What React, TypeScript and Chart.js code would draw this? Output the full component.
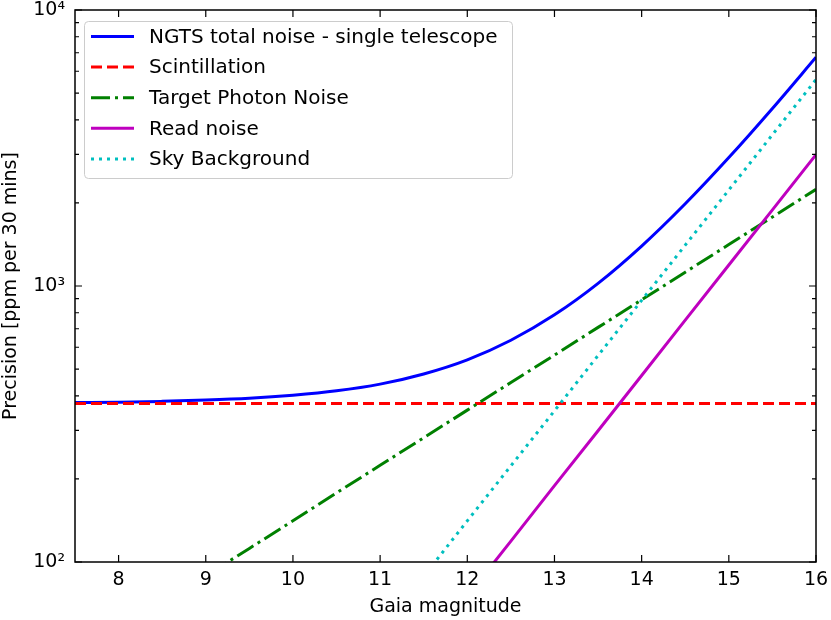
import { Chart, registerables } from 'chart.js';
import type { Plugin } from 'chart.js';
import { useEffect, useRef } from 'react';

Chart.register(...registerables);

const magnitudes = [7.5, 8, 8.5, 9, 9.5, 10, 10.5, 11, 11.5, 12, 12.5, 13, 13.5, 14, 14.5, 15, 15.5, 16];
const totalNoise = [378, 379, 382, 386, 392, 402, 417, 441, 480, 540, 636, 786, 1022, 1395, 1985, 2919, 4398, 6741];
const scintillation = [375, 375, 375, 375, 375, 375, 375, 375, 375, 375, 375, 375, 375, 375, 375, 375, 375, 375];
const photonNoise = [44.7, 56.2, 70.8, 89.1, 112, 141, 178, 224, 282, 355, 447, 562, 708, 891, 1122, 1413, 1778, 2239];
const readNoise = [1.19, 1.89, 2.99, 4.74, 7.52, 11.9, 18.9, 29.9, 47.4, 75.2, 119, 189, 299, 474, 752, 1191, 1888, 2992];
const skyBackground = [2.23, 3.53, 5.6, 8.87, 14.1, 22.3, 35.3, 56, 88.7, 141, 223, 353, 560, 887, 1406, 2228, 3532, 5598];

const xTicks = [8, 9, 10, 11, 12, 13, 14, 15, 16];
const yTicks = [100, 1000, 10000];
const yTickLabels = ['10²', '10³', '10⁴'];
const yMinorTicks = [200, 300, 400, 500, 600, 700, 800, 900, 2000, 3000, 4000, 5000, 6000, 7000, 8000, 9000];

const FONT = 'DejaVu Sans';

const toPoints = (vals: number[]) => magnitudes.map((m, i) => ({ x: m, y: vals[i] }));

// matplotlib style frame with inward ticks on all four sides
const framePlugin: Plugin<'line'> = {
  id: 'frame',
  afterDraw(chart) {
    const { ctx, chartArea: a, scales } = chart;
    const x = scales.x;
    const y = scales.y;
    ctx.save();
    ctx.strokeStyle = '#000';
    ctx.lineWidth = 1.2;
    ctx.beginPath();
    xTicks.forEach((v) => {
      const px = x.getPixelForValue(v);
      ctx.moveTo(px, a.bottom);
      ctx.lineTo(px, a.bottom - 7);
      ctx.moveTo(px, a.top);
      ctx.lineTo(px, a.top + 7);
    });
    yTicks.forEach((v) => {
      const py = y.getPixelForValue(v);
      ctx.moveTo(a.left, py);
      ctx.lineTo(a.left + 7, py);
      ctx.moveTo(a.right, py);
      ctx.lineTo(a.right - 7, py);
    });
    yMinorTicks.forEach((v) => {
      const py = y.getPixelForValue(v);
      ctx.moveTo(a.left, py);
      ctx.lineTo(a.left + 4, py);
      ctx.moveTo(a.right, py);
      ctx.lineTo(a.right - 4, py);
    });
    ctx.stroke();
    ctx.lineWidth = 1.5;
    ctx.strokeRect(a.left, a.top, a.right - a.left, a.bottom - a.top);
    ctx.restore();
  },
};

// legend box in the upper left corner of the plot
const legendPlugin: Plugin<'line'> = {
  id: 'innerLegend',
  afterDatasetsDraw(chart) {
    const { ctx } = chart;
    ctx.save();
    ctx.beginPath();
    ctx.roundRect(84.5, 21.5, 428, 157, 4);
    ctx.fillStyle = 'rgba(255,255,255,0.8)';
    ctx.fill();
    ctx.strokeStyle = '#cccccc';
    ctx.lineWidth = 1;
    ctx.stroke();
    ctx.font = `20px "${FONT}"`;
    ctx.textBaseline = 'middle';
    ctx.textAlign = 'left';
    chart.data.datasets.forEach((ds: any, i: number) => {
      const ly = 36.5 + i * 30.6;
      ctx.beginPath();
      ctx.setLineDash(ds.borderDash || []);
      ctx.lineCap = 'butt';
      ctx.strokeStyle = ds.borderColor;
      ctx.lineWidth = 3;
      ctx.moveTo(91, ly);
      ctx.lineTo(134, ly);
      ctx.stroke();
      ctx.setLineDash([]);
      ctx.fillStyle = '#000';
      ctx.fillText(ds.label, 149, ly + 1);
    });
    ctx.restore();
  },
};

const NoiseChart: React.FC = () => {
  const ref = useRef<HTMLCanvasElement>(null);
  const chartInstance = useRef<Chart | null>(null);

  useEffect(() => {
    if (!ref.current) return;
    const ctx = ref.current.getContext('2d');
    if (!ctx) return;
    if (chartInstance.current) chartInstance.current.destroy();

    const common = { pointRadius: 0, borderWidth: 3, fill: false, clip: 0, borderCapStyle: 'butt' as const };

    chartInstance.current = new Chart(ctx, {
      type: 'line',
      data: {
        datasets: [
          { ...common, label: 'NGTS total noise - single telescope', data: toPoints(totalNoise), borderColor: '#0000ff', cubicInterpolationMode: 'monotone', order: 5 },
          { ...common, label: 'Scintillation', data: toPoints(scintillation), borderColor: '#ff0000', borderDash: [11, 5], order: 4 },
          { ...common, label: 'Target Photon Noise', data: toPoints(photonNoise), borderColor: '#008000', borderDash: [19, 5, 3, 5], order: 3 },
          { ...common, label: 'Read noise', data: toPoints(readNoise), borderColor: '#bf00bf', order: 2 },
          { ...common, label: 'Sky Background', data: toPoints(skyBackground), borderColor: '#00bfbf', borderDash: [3, 5], order: 1 },
        ],
      },
      options: {
        animation: false,
        responsive: false,
        devicePixelRatio: 1,
        layout: { padding: { top: 10, right: 15, left: 0, bottom: 0 } },
        plugins: { legend: { display: false }, tooltip: { enabled: false } },
        scales: {
          x: {
            type: 'linear',
            min: 7.5,
            max: 16,
            grid: { display: false, drawTicks: false },
            border: { display: false },
            afterBuildTicks: (scale) => {
              scale.ticks = xTicks.map((v) => ({ value: v }));
            },
            afterFit: (scale: any) => {
              scale.height = 58;
              scale.paddingLeft = 0;
              scale.paddingRight = 0;
            },
            ticks: {
              padding: 7,
              color: '#000',
              maxRotation: 0,
              font: { family: FONT, size: 19 },
              callback: (v) => String(v),
            },
            title: {
              display: true,
              text: 'Gaia magnitude',
              color: '#000',
              font: { family: FONT, size: 19 },
              padding: { top: 0, bottom: 2 },
            },
          },
          y: {
            type: 'logarithmic',
            min: 100,
            max: 10000,
            grid: { display: false, drawTicks: false },
            border: { display: false },
            afterBuildTicks: (scale) => {
              scale.ticks = yTicks.map((v) => ({ value: v, major: true }));
            },
            afterFit: (scale: any) => {
              scale.width = 75;
              scale.paddingTop = 0;
              scale.paddingBottom = 0;
            },
            ticks: {
              padding: 10,
              color: '#000',
              font: { family: FONT, size: 19, lineHeight: 1 },
              callback: (_v, i) => yTickLabels[i],
            },
            title: {
              display: true,
              text: 'Precision [ppm per 30 mins]',
              color: '#000',
              font: { family: FONT, size: 19 },
              padding: { top: 0, bottom: 0 },
            },
          },
        },
      },
      plugins: [legendPlugin, framePlugin],
    });

    return () => {
      if (chartInstance.current) {
        chartInstance.current.destroy();
        chartInstance.current = null;
      }
    };
  }, []);

  return (
    <div style={{ position: 'fixed', left: 0, top: 0, width: 831, height: 620, background: '#fff' }}>
      <canvas ref={ref} width={831} height={620} style={{ width: 831, height: 620 }}></canvas>
    </div>
  );
};

export default function App() {
  return <NoiseChart />;
}
